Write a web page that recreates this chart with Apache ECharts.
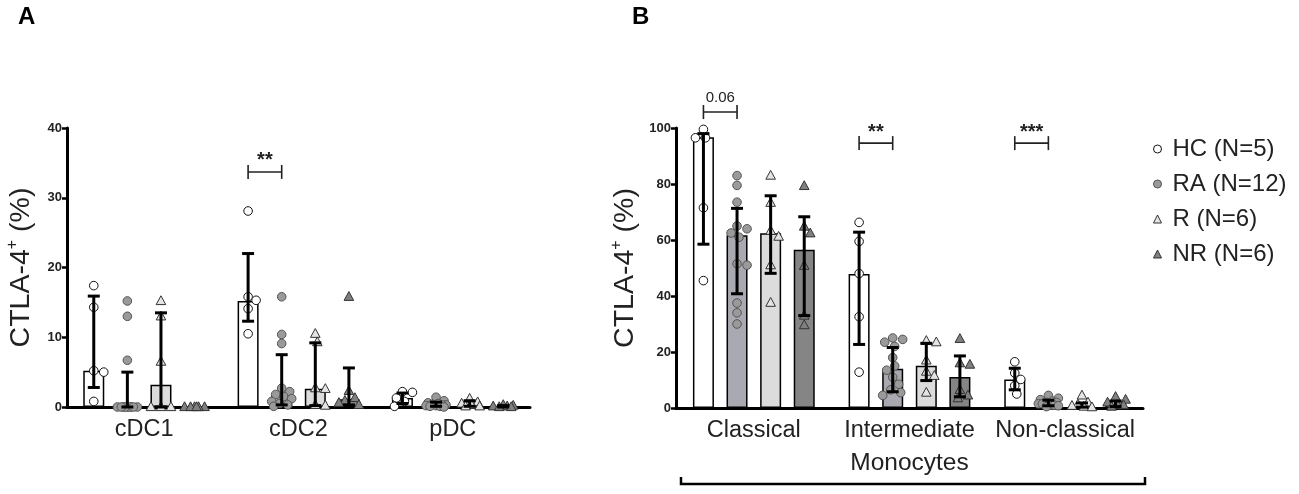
<!DOCTYPE html>
<html>
<head>
<meta charset="utf-8">
<script src="https://cdn.jsdelivr.net/npm/echarts@6/dist/echarts.min.js"></script>
<style>
html,body{margin:0;padding:0;background:#fff;}
#c{width:1299px;height:494px;}
</style>
</head>
<body>
<div id="c"></div>
<script>
// ---------- DATA ----------
const catsA = ['cDC1', 'cDC2', 'pDC'];
const catsB = ['Classical', 'Intermediate', 'Non-classical'];
const groupNames = ['HC (N=5)', 'RA (N=12)', 'R (N=6)', 'NR (N=6)'];
const ticksA = [0, 10, 20, 30, 40];
const ticksB = [0, 20, 40, 60, 80, 100];

// Panel A — bar height (median), error low / high, individual points
const barA_HC = [5.2, 15.2, 1.3];
const loA_HC = [2.8, 12.3, 0.5];
const hiA_HC = [15.9, 22.0, 2.0];
const ptsA_HC = [[17.4, 14.3, 5.2, 5.0, 0.8], [28.1, 15.8, 15.3, 14.1, 10.5], [2.2, 2.1, 1.3, 0.8, 0.1]];

const barA_RA = [0, 1.7, 0.3];
const loA_RA = [0, 0.3, 0.1];
const hiA_RA = [5.0, 7.5, 0.7];
const ptsA_RA = [[15.2, 13.0, 6.7, 0, 0, 0, 0, 0, 0, 0, 0, 0],
                 [15.8, 10.4, 9.1, 2.7, 2.2, 1.8, 1.5, 1.2, 0.8, 0.5, 0.3, 0.1],
                 [1.4, 0.9, 0.6, 0.5, 0.4, 0.3, 0.3, 0.2, 0.2, 0.1, 0.1, 0.0]];

const barA_R = [3.2, 2.6, 0.4];
const loA_R = [0, 0.2, 0.1];
const hiA_R = [13.5, 9.2, 0.9];
const ptsA_R = [[15.2, 13.0, 6.5, 0, 0, 0], [10.5, 9.3, 2.7, 2.6, 0.3, 0.2], [1.2, 0.7, 0.5, 0.3, 0.1, 0.1]];

const barA_NR = [0, 1.1, 0.1];
const loA_NR = [0, 0.3, 0.0];
const hiA_NR = [0, 5.6, 0.2];
const ptsA_NR = [[0, 0, 0, 0, 0, 0], [15.8, 2.3, 1.3, 0.9, 0.6, 0.3], [0.3, 0.2, 0.1, 0.1, 0.0, 0.0]];

// Panel B
const barB_HC = [96.7, 47.9, 10.2];
const loB_HC = [58.5, 22.7, 6.5];
const hiB_HC = [98.0, 62.8, 14.2];
const ptsB_HC = [[99.5, 96.5, 96.5, 71.5, 45.5], [66.3, 59.5, 48.0, 32.6, 12.8], [16.5, 12.5, 10.2, 8.0, 5.0]];

const barB_RA = [61.7, 14.0, 1.8];
const loB_RA = [40.8, 5.8, 0.8];
const hiB_RA = [71.3, 21.6, 2.8];
const ptsB_RA = [[83.0, 79.5, 73.5, 65.0, 64.0, 62.5, 61.0, 51.5, 51.0, 37.5, 34.0, 30.0],
                 [25.0, 24.5, 23.5, 22.0, 18.0, 15.0, 13.5, 11.0, 8.5, 6.5, 5.5, 4.5],
                 [4.5, 3.5, 3.0, 2.5, 2.0, 2.0, 1.5, 1.5, 1.0, 1.0, 0.8, 0.5]];

const barB_R = [62.4, 15.1, 1.0];
const loB_R = [48.1, 9.8, 0.3];
const hiB_R = [75.8, 23.1, 1.8];
const ptsB_R = [[83.0, 73.3, 63.3, 61.2, 51.0, 37.6], [24.0, 23.5, 17.0, 13.0, 11.5, 5.5], [4.5, 2.0, 1.3, 0.8, 0.5, 0.3]];

const barB_NR = [56.5, 11.1, 1.5];
const loB_NR = [33.0, 4.0, 0.5];
const hiB_NR = [68.3, 18.6, 2.5];
const ptsB_NR = [[79.3, 64.8, 62.4, 50.8, 33.0, 29.6], [24.7, 16.0, 15.5, 6.5, 4.5, 3.5], [4.0, 3.0, 2.0, 1.2, 1.0, 0.5]];

// significance brackets: [category index, y value, label]  (HC vs RA)
const sigA = [[1, 33.7, '**']];
const sigB = [[0, 105.7, '0.06'], [1, 94.6, '**'], [2, 94.6, '***']];

// ---------- STYLE ----------
const FONT = 'Liberation Sans, Arial, Helvetica, sans-serif';
const barFill = ['#ffffff', '#a9a9b1', '#dcdcdc', '#858585'];
const ptFill = ['#ffffff', '#9a9a9a', '#e4e4e4', '#808080'];
const ptStroke = ['#111111', '#555555', '#333333', '#333333'];
const ptShape = ['circle', 'circle', 'triangle', 'triangle'];
const BW = 21, GAPR = 0.6, STEP = BW * (1 + GAPR);
const gridA = {left: 67, top: 128, width: 463, height: 279};
const gridB = {left: 676, top: 128, width: 467, height: 280};

function offsetOf(k) { return (k - 1.5) * STEP; }

function swarm(ys, diam, maxOff, step) {
  const placed = [], offs = [];
  for (let i = 0; i < ys.length; i++) {
    const y = ys[i];
    let best = 0, bestScore = -1;
    const n = Math.floor(maxOff / step);
    for (let k = 0; k <= 2 * n; k++) {
      const o = k === 0 ? 0 : (k % 2 ? 1 : -1) * Math.ceil(k / 2) * step;
      let md = Infinity;
      for (const p of placed) {
        const d = Math.hypot(o - p[0], y - p[1]);
        if (d < md) md = d;
      }
      if (md >= diam) { best = o; bestScore = md; break; }
      if (md > bestScore) { bestScore = md; best = o; }
    }
    placed.push([best, y]);
    offs.push(best);
  }
  return offs;
}

function pointSeries(name, k, pts, axisIdx) {
  const data = [];
  pts.forEach((arr, c) => arr.forEach((v, j) => data.push([c, v, j])));
  return {
    type: 'custom', name: name, xAxisIndex: axisIdx, yAxisIndex: axisIdx, z: 3, silent: true,
    data: data, encode: {x: 0, y: 1},
    renderItem: function (params, api) {
      const c = api.value(0), v = api.value(1), j = api.value(2);
      const ys = pts[c].map(val => api.coord([c, val])[1]);
      const offs = swarm(ys, 8.5, 11, 2);
      const base = api.coord([c, 0])[0] + offsetOf(k);
      const cx = base + offs[j], cy = api.coord([c, v])[1];
      const style = {fill: ptFill[k], stroke: ptStroke[k], lineWidth: 1};
      if (ptShape[k] === 'circle') {
        return {type: 'circle', shape: {cx: cx, cy: cy, r: 4.3}, style: style};
      }
      return {type: 'polygon', shape: {points: [[cx, cy - 5.2], [cx - 4.8, cy + 3.6], [cx + 4.8, cy + 3.6]]}, style: style};
    }
  };
}

function errSeries(los, his, axisIdx) {
  const data = [];
  los.forEach((lo, k) => lo.forEach((l, c) => data.push([c, k, l, his[k][c]])));
  return {
    type: 'custom', xAxisIndex: axisIdx, yAxisIndex: axisIdx, z: 4, silent: true,
    data: data, encode: {x: 0, y: [2, 3]},
    renderItem: function (params, api) {
      const c = api.value(0), k = api.value(1), lo = api.value(2), hi = api.value(3);
      if (hi - lo <= 0) return null;
      const x = api.coord([c, 0])[0] + offsetOf(k);
      const y1 = api.coord([c, lo])[1], y2 = api.coord([c, hi])[1];
      const st = {stroke: '#000', lineWidth: 3};
      return {type: 'group', children: [
        {type: 'line', shape: {x1: x, y1: y1, x2: x, y2: y2}, style: st},
        {type: 'line', shape: {x1: x - 6, y1: y1, x2: x + 6, y2: y1}, style: st},
        {type: 'line', shape: {x1: x - 6, y1: y2, x2: x + 6, y2: y2}, style: st}
      ]};
    }
  };
}

function sigSeries(sig, axisIdx) {
  return {
    type: 'custom', xAxisIndex: axisIdx, yAxisIndex: axisIdx, z: 5, silent: true, clip: false,
    data: sig, encode: {x: 0, y: 1},
    renderItem: function (params, api) {
      const c = api.value(0), v = api.value(1);
      const label = sig[params.dataIndex][2];
      const cx = api.coord([c, v]);
      const x1 = cx[0] + offsetOf(0), x2 = cx[0] + offsetOf(1), y = cx[1];
      const st = {stroke: '#222', lineWidth: 1.6};
      const isStar = label.indexOf('*') >= 0;
      return {type: 'group', children: [
        {type: 'line', shape: {x1: x1, y1: y, x2: x2, y2: y}, style: st},
        {type: 'line', shape: {x1: x1, y1: y - 7, x2: x1, y2: y + 7}, style: st},
        {type: 'line', shape: {x1: x2, y1: y - 7, x2: x2, y2: y + 7}, style: st},
        {type: 'text', style: {
          text: label, x: (x1 + x2) / 2, y: isStar ? y - 1 : y - 7,
          align: 'center', verticalAlign: 'bottom',
          font: (isStar ? 'bold 20px ' : '15px ') + FONT, fill: '#222'
        }}
      ]};
    }
  };
}

function barSeries(vals, k, axisIdx) {
  return {
    type: 'bar', xAxisIndex: axisIdx, yAxisIndex: axisIdx, data: vals, barWidth: BW, barGap: (GAPR * 100) + '%',
    z: 2, silent: true,
    itemStyle: {color: barFill[k], borderColor: '#000', borderWidth: 1.5}
  };
}

const barsA = [barA_HC, barA_RA, barA_R, barA_NR];
const barsB = [barB_HC, barB_RA, barB_R, barB_NR];
const ptsA = [ptsA_HC, ptsA_RA, ptsA_R, ptsA_NR];
const ptsB = [ptsB_HC, ptsB_RA, ptsB_R, ptsB_NR];

const series = [];
barsA.forEach((b, k) => series.push(barSeries(b, k, 0)));
barsB.forEach((b, k) => series.push(barSeries(b, k, 1)));
ptsA.forEach((p, k) => series.push(pointSeries(groupNames[k], k, p, 0)));
ptsB.forEach((p, k) => series.push(pointSeries(groupNames[k], k, p, 1)));
series.push(errSeries([loA_HC, loA_RA, loA_R, loA_NR], [hiA_HC, hiA_RA, hiA_R, hiA_NR], 0));
series.push(errSeries([loB_HC, loB_RA, loB_R, loB_NR], [hiB_HC, hiB_RA, hiB_R, hiB_NR], 1));
series.push(sigSeries(sigA, 0));
series.push(sigSeries(sigB, 1));

function xAx(cats, gi, extra) {
  return Object.assign({
    type: 'category', gridIndex: gi, data: cats,
    axisLine: {lineStyle: {color: '#000', width: 3}},
    axisTick: {alignWithLabel: true, length: 7, lineStyle: {color: '#000', width: 2.5}},
    axisLabel: {fontFamily: FONT, fontSize: 23.5, color: '#222', margin: 11, interval: 0, hideOverlap: false},
    splitLine: {show: false}
  }, extra || {});
}
function yAx(gi, ticks, gap) {
  return {
    type: 'value', gridIndex: gi, min: ticks[0], max: ticks[ticks.length - 1],
    interval: ticks[1] - ticks[0],
    name: '{m|CTLA-4}{s|+}{m| (%)}', nameLocation: 'middle', nameGap: gap, nameRotate: 90,
    nameTextStyle: {rich: {
      m: {fontFamily: FONT, fontSize: 28.5, color: '#222'},
      s: {fontFamily: FONT, fontSize: 16, color: '#222', verticalAlign: 'top', padding: [0, 0, 16, 0]}
    }},
    axisLine: {show: true, lineStyle: {color: '#000', width: 3}},
    axisTick: {show: true, length: 5, lineStyle: {color: '#000', width: 2.5}},
    axisLabel: {fontFamily: FONT, fontSize: 13, fontWeight: 'bold', color: '#222', margin: 5},
    splitLine: {show: false}
  };
}

const chart = echarts.init(document.getElementById('c'), null, {renderer: 'canvas'});
const bracketY = gridB.top + gridB.height + 76;
chart.setOption({
  animation: false,
  backgroundColor: '#fff',
  grid: [gridA, gridB],
  xAxis: [xAx(catsA, 0), xAx(catsB, 1, {
    name: 'Monocytes', nameLocation: 'middle', nameGap: 43,
    nameTextStyle: {fontFamily: FONT, fontSize: 24.5, color: '#222'}
  })],
  yAxis: [yAx(0, ticksA, 30), yAx(1, ticksB, 35)],
  legend: {
    orient: 'vertical', left: 1148, top: 132, itemGap: 11, itemWidth: 8, itemHeight: 8,
    selectedMode: false,
    textStyle: {fontFamily: FONT, fontSize: 24, color: '#222', padding: [0, 0, 0, 6]},
    data: groupNames.map((n, k) => ({
      name: n, icon: ptShape[k] === 'circle' ? 'circle' : 'triangle',
      itemStyle: {color: ptFill[k], borderColor: ptStroke[k], borderWidth: 1}
    }))
  },
  graphic: [
    {type: 'text', left: 18, top: 5, style: {text: 'A', font: 'bold 24px ' + FONT, fill: '#000'}},
    {type: 'text', left: 632, top: 5, style: {text: 'B', font: 'bold 24px ' + FONT, fill: '#000'}},
    {type: 'polyline', silent: true, shape: {points: [
      [gridB.left + 5, bracketY - 7], [gridB.left + 5, bracketY],
      [gridB.left + gridB.width + 2, bracketY], [gridB.left + gridB.width + 2, bracketY - 7]
    ]}, style: {stroke: '#000', lineWidth: 2.5, fill: null}}
  ],
  series: series
});
</script>
</body>
</html>
